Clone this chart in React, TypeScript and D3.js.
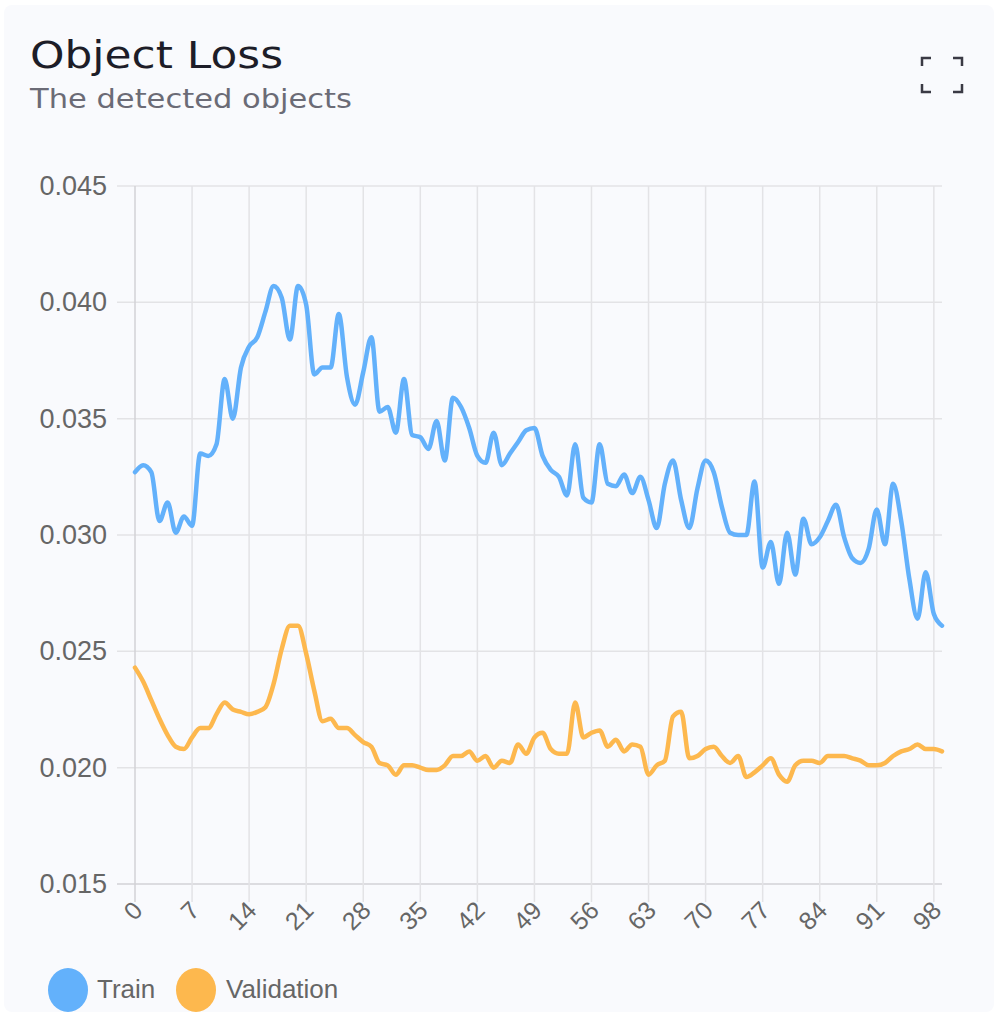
import React from 'react';
import * as d3 from 'd3';

// epochs 0..99
const train = [
  0.0327, 0.033, 0.0327, 0.0306, 0.0314, 0.0301, 0.0308, 0.0304, 0.0335, 0.0334,
  0.0339, 0.0367, 0.035, 0.0372, 0.0381, 0.0385, 0.0396, 0.0407, 0.0402, 0.0384,
  0.0407, 0.0399, 0.0369, 0.0372, 0.0372, 0.0395, 0.0368, 0.0356, 0.037, 0.0385,
  0.0353, 0.0355, 0.0344, 0.0367, 0.0343, 0.0342, 0.0337, 0.0349, 0.0332, 0.0359,
  0.0355, 0.0346, 0.0334, 0.0331, 0.0344, 0.033, 0.0335, 0.034, 0.0345, 0.0346,
  0.0334, 0.0328, 0.0325, 0.0317, 0.0339, 0.0316, 0.0314, 0.0339, 0.0322, 0.0321,
  0.0326, 0.0318, 0.0325, 0.0315, 0.0303, 0.0322, 0.0332, 0.0315, 0.0303, 0.032,
  0.0332, 0.0327, 0.0312, 0.0301, 0.03, 0.03, 0.0323, 0.0286, 0.0297, 0.0279,
  0.0301, 0.0283, 0.0307, 0.0296, 0.0299, 0.0306, 0.0313, 0.0299, 0.029, 0.0288,
  0.0294, 0.0311, 0.0296, 0.0322, 0.0306, 0.0281, 0.0264, 0.0284, 0.0266, 0.0261,
];

const validation = [
  0.0243, 0.0237, 0.0229, 0.0221, 0.0214, 0.0209, 0.0208, 0.0213, 0.0217, 0.0217,
  0.0223, 0.0228, 0.0225, 0.0224, 0.0223, 0.0224, 0.0226, 0.0236, 0.0251, 0.0261,
  0.0261, 0.0249, 0.0233, 0.022, 0.0221, 0.0217, 0.0217, 0.0214, 0.0211, 0.0209,
  0.0202, 0.0201, 0.0197, 0.0201, 0.0201, 0.02, 0.0199, 0.0199, 0.0201, 0.0205,
  0.0205, 0.0207, 0.0203, 0.0205, 0.02, 0.0203, 0.0202, 0.021, 0.0206, 0.0213,
  0.0215, 0.0208, 0.0206, 0.0206, 0.0228, 0.0213, 0.0215, 0.0216, 0.0209, 0.0212,
  0.0207, 0.021, 0.0209, 0.0197, 0.0201, 0.0203, 0.0222, 0.0224, 0.0204, 0.0205,
  0.0208, 0.0209, 0.0205, 0.0202, 0.0205, 0.0196, 0.0198, 0.0201, 0.0204, 0.0197,
  0.0194, 0.0201, 0.0203, 0.0203, 0.0202, 0.0205, 0.0205, 0.0205, 0.0204, 0.0203,
  0.0201, 0.0201, 0.0202, 0.0205, 0.0207, 0.0208, 0.021, 0.0208, 0.0208, 0.0207,
];

const epochs = d3.range(train.length);
const xTicks = d3.range(0, 99, 7);
const yTicks = [0.015, 0.02, 0.025, 0.03, 0.035, 0.04, 0.045];

const series = [
  { name: 'Train', values: train, color: '#63b1fb' },
  { name: 'Validation', values: validation, color: '#fdb84e' },
];

const W = 994;
const H = 1012;
const left = 135;
const right = 942;
const top = 186;
const bottom = 884;
const tickLen = 18;

const App: React.FC = () => {
  const x = d3.scaleLinear().domain([0, epochs.length - 1]).range([left, right]);
  const y = d3.scaleLinear().domain([0.015, 0.045]).range([bottom, top]);

  const line = d3
    .line<number>()
    .x((_, i) => x(i))
    .y((d) => y(d))
    .curve(d3.curveMonotoneX);

  const axisFont = "'Liberation Sans', Arial, sans-serif";
  const headFont = "'DejaVu Sans', sans-serif";

  return (
    <div style={{ position: 'absolute', left: 0, top: 0 }}>
      <svg width={W} height={H} style={{ display: 'block' }}>
        <rect x={0} y={0} width={W} height={H} fill='#ffffff' />
        <rect x={4} y={5} width={W - 4} height={H - 5} rx={8} fill='#f9fafd' />

        <text
          x={30}
          y={68}
          fontFamily={headFont}
          fontSize={37}
          fill='#1d1d28'
          textLength={253}
          lengthAdjust='spacingAndGlyphs'
        >
          Object Loss
        </text>
        <text
          x={30}
          y={108}
          fontFamily={headFont}
          fontSize={26}
          fill='#6b6b76'
          textLength={322}
          lengthAdjust='spacingAndGlyphs'
        >
          The detected objects
        </text>

        {/* fullscreen icon */}
        <g stroke='#3a3a44' strokeWidth={2.5} fill='none'>
          <path d='M922,66 V58 H931' />
          <path d='M953,58 H962 V66' />
          <path d='M922,84 V92 H931' />
          <path d='M953,92 H962 V84' />
        </g>

        {/* grid */}
        <g>
          {yTicks.map((t) => (
            <line
              key={'gy' + t}
              x1={left - tickLen}
              x2={right}
              y1={y(t)}
              y2={y(t)}
              stroke={t === 0.015 ? '#d2d2d6' : '#e3e3e6'}
              strokeWidth={1.5}
            />
          ))}
          {xTicks.map((t) => (
            <line
              key={'gx' + t}
              x1={x(t)}
              x2={x(t)}
              y1={top}
              y2={bottom + tickLen}
              stroke={t === 0 ? '#d2d2d6' : '#e3e3e6'}
              strokeWidth={1.5}
            />
          ))}
        </g>

        {/* y labels */}
        <g fontFamily={axisFont} fontSize={27} fill='#666' textAnchor='end' dominantBaseline='central'>
          {yTicks.map((t) => (
            <text key={'ly' + t} x={107} y={y(t)}>
              {d3.format('.3f')(t)}
            </text>
          ))}
        </g>

        {/* x labels */}
        <g fontFamily={axisFont} fontSize={25} fill='#666' textAnchor='end'>
          {xTicks.map((t) => (
            <text key={'lx' + t} transform={`translate(${x(t) + 9},${bottom + 28}) rotate(-45)`}>
              {t}
            </text>
          ))}
        </g>

        {/* lines */}
        {series.map((s) => (
          <path
            key={s.name}
            d={line(s.values) || ''}
            fill='none'
            stroke={s.color}
            strokeWidth={4.5}
            strokeLinejoin='round'
            strokeLinecap='round'
          />
        ))}

        {/* legend */}
        <g fontFamily={axisFont} fontSize={26} fill='#666'>
          <ellipse cx={68} cy={990} rx={20} ry={22} fill={series[0].color} />
          <text x={97} y={998}>{series[0].name}</text>
          <ellipse cx={196} cy={990} rx={20} ry={22} fill={series[1].color} />
          <text x={226} y={998}>{series[1].name}</text>
        </g>
      </svg>
    </div>
  );
};

export default App;
